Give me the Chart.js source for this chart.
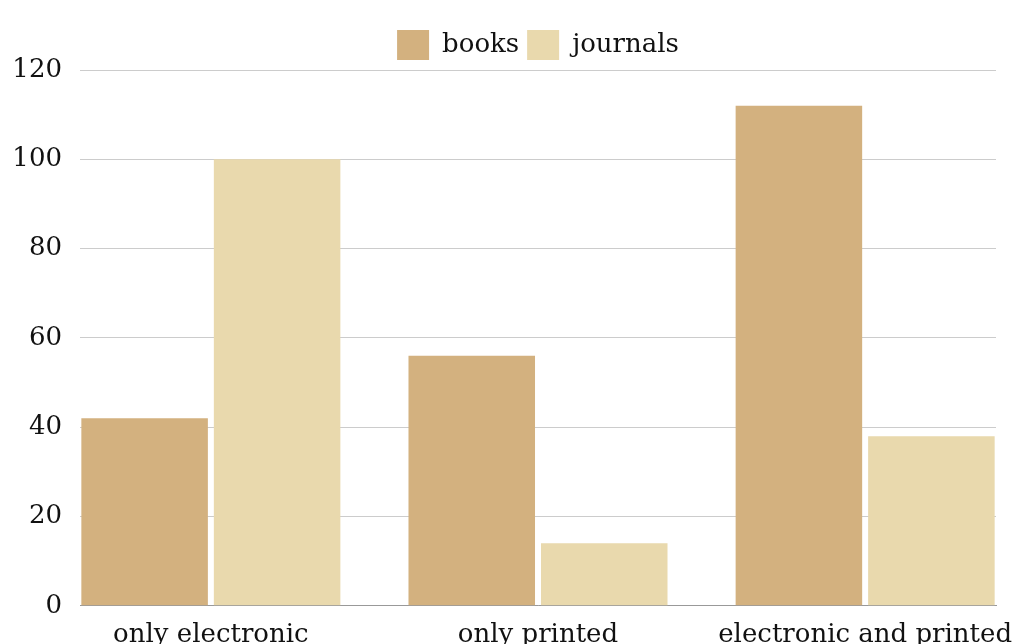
<!DOCTYPE html>
<html>
<head>
<meta charset="utf-8">
<script src="https://cdn.jsdelivr.net/npm/chart.js@4"></script>
<style>
  html, body { margin: 0; padding: 0; overflow: hidden; background: #fff; }
</style>
</head>
<body>
<canvas id="chart" width="1017" height="670"></canvas>
<script>
const categories = ["only electronic", "only printed", "electronic and printed"];
const books = [42, 56, 112];
const journals = [100, 14, 38];
const yTicks = [0, 20, 40, 60, 80, 100, 120];

const font = { family: "'DejaVu Serif', serif", size: 26 };

// bars sit on a linear x scale so the groups spread edge to edge
const toPoints = (arr) => arr.map((v, i) => ({ x: i, y: v }));

const config = {
  type: "bar",
  data: {
    datasets: [
      { label: "books", data: toPoints(books), backgroundColor: "#d3b17f", borderWidth: 0 },
      { label: "journals", data: toPoints(journals), backgroundColor: "#e9d9ad", borderWidth: 0 },
    ],
  },
  options: {
    responsive: false,
    animation: false,
    categoryPercentage: 0.81,
    barPercentage: 0.955,
    layout: { padding: { left: 12, right: 21, top: 22, bottom: 5 } },
    plugins: {
      tooltip: { enabled: false },
      legend: {
        position: "top",
        fullSize: false,
        labels: {
          font: font,
          color: "#111",
          boxWidth: 32,
          boxHeight: 30,
          padding: 8,
        },
      },
    },
    scales: {
      x: {
        type: "linear",
        offset: false,
        min: -0.4,
        max: 2.4,
        afterBuildTicks: (axis) => {
          axis.ticks = categories.map((_, i) => ({ value: i }));
        },
        afterFit: (axis) => {
          // let the last label run past the plot edge like the original
          axis.paddingLeft = 0;
          axis.paddingRight = 0;
        },
        grid: { display: false, drawTicks: false },
        border: { display: true, color: "#999", width: 1 },
        ticks: {
          font: font,
          color: "#111",
          padding: 14,
          maxRotation: 0,
          autoSkip: false,
          callback: (v) => categories[v],
        },
      },
      y: {
        min: 0,
        max: 120,
        afterBuildTicks: (axis) => {
          axis.ticks = yTicks.map((v) => ({ value: v }));
        },
        afterFit: (axis) => {
          axis.width = 68;
        },
        grid: { color: "#cccccc", drawTicks: false },
        border: { display: false },
        ticks: { font: font, color: "#111", padding: 18 },
      },
    },
  },
};

new Chart(document.getElementById("chart"), config);
</script>
</body>
</html>
